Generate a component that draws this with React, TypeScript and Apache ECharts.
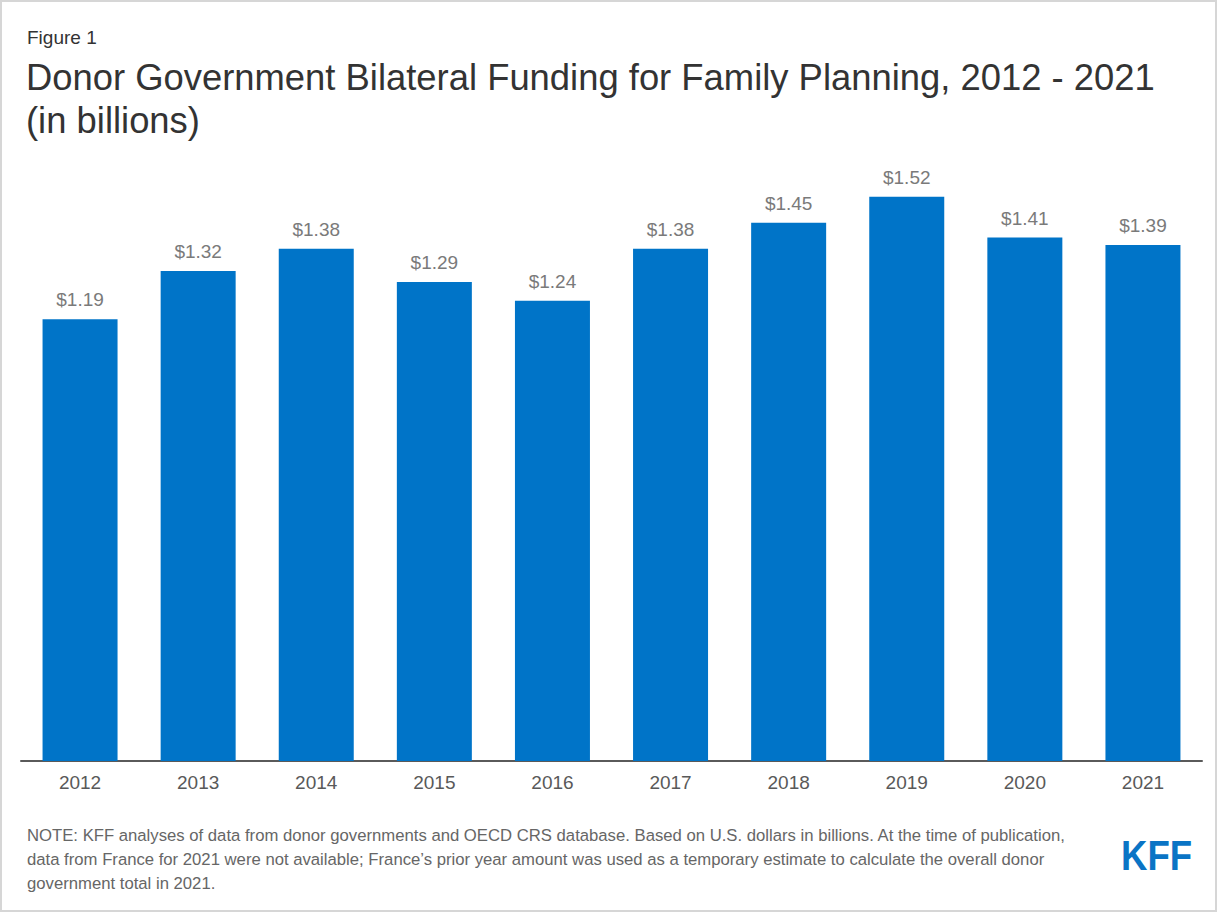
import React, { useEffect, useRef } from "react";
import * as echarts from "echarts";

const years = ["2012", "2013", "2014", "2015", "2016", "2017", "2018", "2019", "2020", "2021"];
const funding = [1.19, 1.32, 1.38, 1.29, 1.24, 1.38, 1.45, 1.52, 1.41, 1.39];

const figureLabel = "Figure 1";
const titleLines = [
  "Donor Government Bilateral Funding for Family Planning, 2012 - 2021",
  "(in billions)",
];
const noteLines = [
  "NOTE: KFF analyses of data from donor governments and OECD CRS database. Based on U.S. dollars in billions. At the time of publication,",
  "data from France for 2021 were not available; France\u2019s prior year amount was used as a temporary estimate to calculate the overall donor",
  "government total in 2021.",
];

const FONT = "'Liberation Sans', Arial, Helvetica, sans-serif";

export default function App() {
  const ref = useRef<HTMLDivElement>(null);

  useEffect(() => {
    if (!ref.current) return;
    const chart = echarts.init(ref.current, undefined, { renderer: "svg" });

    const graphics: any[] = [
      {
        type: "rect",
        shape: { x: 1, y: 1, width: 1215, height: 910 },
        style: { fill: "none", stroke: "#d6d6d6", lineWidth: 2 },
        silent: true,
      },
      {
        type: "text",
        x: 27,
        y: 37,
        style: {
          text: figureLabel,
          fontSize: 19,
          fontFamily: FONT,
          fill: "#333333",
          verticalAlign: "middle",
          align: "left",
        },
      },
      ...titleLines.map((t, i) => ({
        type: "text",
        x: 26,
        y: 77 + i * 43,
        style: {
          text: t,
          fontSize: 36.4,
          fontFamily: FONT,
          fill: "#333333",
          verticalAlign: "middle",
          align: "left",
        },
      })),
      ...noteLines.map((t, i) => ({
        type: "text",
        x: 27,
        y: 835 + i * 24,
        style: {
          text: t,
          fontSize: 16.7,
          fontFamily: FONT,
          fill: "#666666",
          verticalAlign: "middle",
          align: "left",
        },
      })),
      {
        type: "text",
        x: 1121,
        y: 855,
        scaleX: 0.87,
        style: {
          text: "KFF",
          fontSize: 42,
          fontWeight: "bold",
          fontFamily: FONT,
          fill: "#0a74c5",
          verticalAlign: "middle",
          align: "left",
        },
      },
    ];

    chart.setOption({
      animation: false,
      backgroundColor: "#ffffff",
      grid: { left: 21, right: 16, top: 167, bottom: 152, containLabel: false },
      xAxis: {
        type: "category",
        data: years,
        axisTick: { show: false },
        axisLine: { show: true, lineStyle: { color: "#5a5a5a", width: 2 } },
        axisLabel: {
          fontSize: 19,
          fontFamily: FONT,
          color: "#595959",
          margin: 12,
        },
      },
      yAxis: {
        type: "value",
        min: 0,
        max: 1.6,
        show: false,
        splitLine: { show: false },
      },
      series: [
        {
          type: "bar",
          data: funding,
          barWidth: 75,
          itemStyle: { color: "#0074c8" },
          label: {
            show: true,
            position: "top",
            distance: 10,
            fontSize: 19,
            fontFamily: FONT,
            color: "#7a7a7a",
            formatter: (p: any) => "$" + Number(p.value).toFixed(2),
          },
        },
      ],
      graphic: graphics,
    });

    return () => chart.dispose();
  }, []);

  return (
    <div
      ref={ref}
      style={{ position: "absolute", left: 0, top: 0, width: 1218, height: 913 }}
    />
  );
}
